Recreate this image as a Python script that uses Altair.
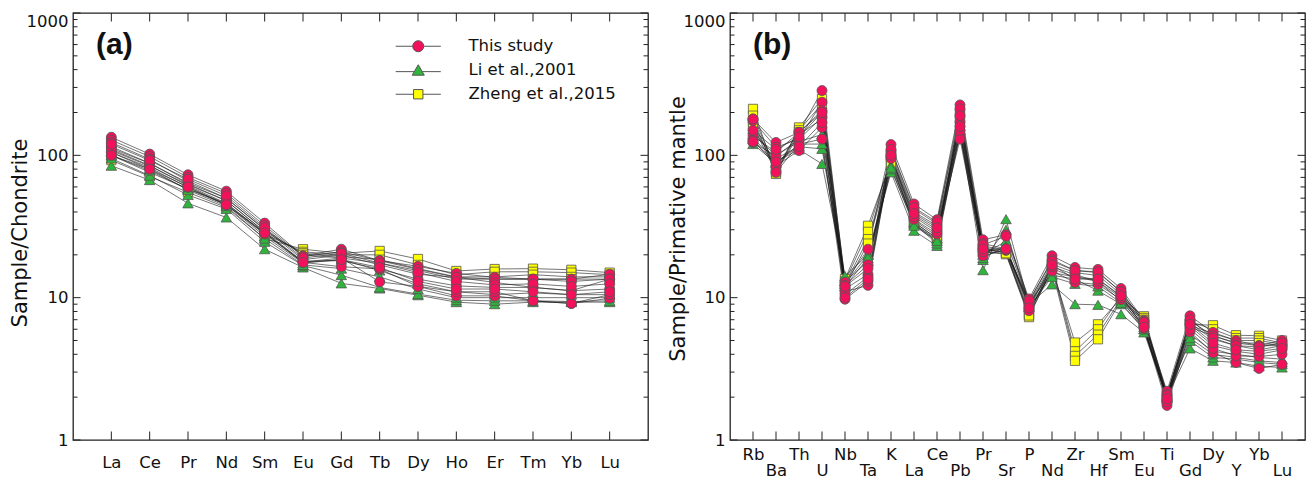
import altair as alt
import pandas as pd

# ---------------- data ----------------
ree = ["La", "Ce", "Pr", "Nd", "Sm", "Eu", "Gd", "Tb", "Dy", "Ho", "Er", "Tm", "Yb", "Lu"]
spider = ["Rb", "Ba", "Th", "U", "Nb", "Ta", "K", "La", "Ce", "Pb", "Pr", "Sr", "P", "Nd",
          "Zr", "Hf", "Sm", "Eu", "Ti", "Gd", "Dy", "Y", "Yb", "Lu"]
groups = ["This study", "Li et al.,2001", "Zheng et al.,2015"]
colors = ["#f2125c", "#2fb53c", "#ffff00"]

# chondrite-normalised REE
ree_this = [
    [134, 102, 73, 56, 33.4, 19.7, 21.9, 18.2, 16.6, 14.8, 13.9, 13.5, 13.5, 14.6],
    [128, 98, 70, 54, 32, 19.5, 21.0, 18.2, 15.8, 13.9, 13.5, 13.5, 13.0, 13.5],
    [123, 94, 66, 50, 30.3, 18.5, 19.9, 17.0, 14.6, 13.9, 12.8, 11.8, 11.2, 13.5],
    [115, 88, 63, 48, 29, 18.0, 18.2, 15.9, 13.5, 12.1, 11.8, 11.8, 11.2, 11.5],
    [105, 82, 59.5, 44.7, 28, 17.7, 16.5, 15.9, 12.0, 10.3, 10.3, 9.5, 9.1, 9.9],
    [110, 85, 61, 46, 28.5, 17.8, 19.0, 12.9, 12.0, 11.0, 11.0, 9.5, 9.1, 10.5],
    [120, 92, 68, 52, 31, 19.0, 20.5, 17.5, 15.0, 13.0, 12.3, 12.5, 12.0, 12.5],
    [100, 80, 60, 45, 28.5, 17.7, 18.5, 16.3, 13.0, 11.5, 11.5, 11.0, 10.5, 11.0],
]
ree_li = [
    [84.5, 67, 46, 36.6, 21.9, 16.3, 12.6, 11.6, 10.4, 9.3, 9.0, 9.3, 9.3, 9.3],
    [95, 72, 52.6, 42, 24.7, 16.8, 14.4, 11.8, 10.6, 9.6, 9.5, 9.5, 9.4, 9.5],
    [100, 78, 58, 45, 27, 17.5, 18.5, 15.5, 12.5, 11.0, 10.5, 10.8, 10.5, 10.5],
    [105, 80, 57, 44, 26, 17.0, 16.0, 14.0, 11.5, 10.0, 10.0, 10.0, 10.0, 10.0],
]
ree_zheng = [
    [92.5, 71, 55, 43, 26, 21.9, 20.5, 21.3, 18.7, 15.4, 15.9, 16.0, 15.7, 15.0],
    [100, 76, 58, 46, 28, 21.0, 20.0, 20.0, 17.0, 14.5, 15.2, 15.2, 15.0, 14.5],
    [108, 84, 62, 48, 29, 20.5, 19.5, 18.5, 16.0, 14.0, 14.0, 14.5, 14.0, 14.0],
    [112, 88, 64, 50, 30, 20.0, 19.0, 17.5, 15.5, 13.5, 13.5, 13.5, 13.5, 13.5],
]

# primitive-mantle-normalised trace elements
pm_this = [
    [180, 123, 145, 285, 12.8, 21.9, 119, 45.5, 35.3, 226, 25.5, 27.7, 9.8, 19.7, 16.3, 15.8, 11.6, 6.9, 2.2, 7.45, 5.7, 5.0, 4.6, 5.0],
    [175, 114, 130, 236, 12.2, 17.0, 108, 42, 33, 212, 24, 22, 9.4, 18.5, 15.5, 15.0, 11.0, 6.8, 2.1, 6.9, 5.4, 4.8, 4.6, 4.6],
    [137, 105, 145, 206, 11.5, 14.6, 104, 40, 32, 171, 23, 21.7, 9.2, 17.2, 15.0, 14.3, 10.6, 6.5, 2.0, 6.6, 5.1, 4.6, 4.3, 4.6],
    [123, 99, 130, 185, 11.0, 12.2, 97, 38, 30, 141, 22, 21.5, 8.8, 16.0, 13.9, 13.5, 10.2, 6.3, 1.9, 6.3, 4.6, 4.2, 4.0, 4.3],
    [128, 84.5, 108, 157, 10.5, 14.0, 100, 35.6, 28, 130, 19.7, 21.7, 8.1, 15.4, 12.8, 12.4, 9.7, 6.07, 1.75, 5.75, 4.1, 3.5, 3.18, 3.4],
    [180, 76, 120, 130, 9.75, 13.0, 95, 37, 29, 150, 21, 22, 9.0, 16.5, 14.5, 13.0, 10.0, 6.3, 1.85, 6.0, 4.4, 3.9, 3.86, 4.0],
    [150, 110, 135, 200, 12.0, 16.0, 110, 43, 34, 190, 23.5, 27, 9.5, 18.0, 15.5, 15.2, 11.0, 6.7, 2.05, 7.0, 5.2, 4.6, 4.5, 4.8],
    [125, 90, 115, 170, 10.0, 13.5, 100, 39, 31, 160, 22, 22, 8.5, 17.0, 13.5, 13.5, 10.3, 6.2, 1.95, 6.5, 4.8, 4.3, 4.2, 4.4],
]
pm_li = [
    [153, 90, 110, 87, 14.2, 20, 76, 29.5, 23.1, 150, 15.6, 35.6, 9.0, 12.4, 9.0, 8.9, 7.65, 5.7, 2.0, 4.4, 3.6, 3.5, 3.3, 3.23],
    [130, 95, 115, 111, 13.0, 18, 80, 33, 24, 160, 18.4, 30, 8.8, 14.4, 13.5, 11.2, 9.0, 6.0, 2.05, 4.97, 3.8, 3.7, 3.5, 3.4],
    [140, 100, 125, 140, 12.5, 20, 85, 34, 26, 170, 20, 25, 9.2, 15.0, 14.0, 13.0, 9.5, 6.2, 2.0, 5.5, 4.2, 4.0, 3.8, 3.7],
    [120, 88, 120, 120, 12.0, 19, 82, 32, 25, 140, 19, 23, 8.6, 14.0, 12.5, 12.0, 9.2, 6.0, 1.95, 5.2, 4.0, 3.8, 3.6, 3.5],
]
pm_zheng = [
    [212, 74, 157, 249, 13.5, 32, 90, 33, 25, 195, 21, 20.2, 7.3, 16.0, 4.84, 6.5, 10.0, 7.4, 2.1, 6.5, 6.4, 5.45, 5.4, 5.0],
    [190, 80, 150, 230, 13.0, 29, 95, 35, 27, 200, 22, 20.7, 7.6, 17.0, 4.2, 6.0, 10.3, 7.2, 2.05, 6.8, 6.0, 5.2, 5.2, 4.8],
    [170, 78, 145, 200, 12.5, 25.8, 92, 34, 26, 185, 21.5, 21, 7.8, 16.5, 3.9, 5.5, 9.8, 7.0, 2.0, 6.4, 5.6, 5.0, 5.0, 4.7],
    [160, 76, 140, 180, 12.0, 24, 88, 33, 25.5, 175, 21, 20.5, 7.5, 15.8, 3.6, 5.1, 9.5, 6.9, 1.95, 6.2, 5.4, 4.8, 4.8, 4.6],
]

y_major = [1, 10, 100, 1000]
y_minor = [m * 10 ** e for e in range(3) for m in range(2, 10)]

# ---------------- styling ----------------
FONT = "DejaVu Sans"
W, H = 575, 427
FRAME = "#222222"
LAB = 16.5
XT, YMAJ, YMIN = 8.5, 7.5, 4.5

# legend symbols: marker with a short line through it
leg_paths = [
    "M-4.1,0L-1,0M1,0L4.1,0M-1,0A1,1,0,1,1,1,0A1,1,0,1,1,-1,0Z",
    "M-4.1,0.25L-0.7,0.25M0.7,0.25L4.1,0.25M0,-1L1.1,0.9L-1.1,0.9Z",
    "M-4.1,0L-0.85,0M0.85,0L4.1,0M-0.85,-0.85L0.85,-0.85L0.85,0.85L-0.85,0.85Z",
]


def long_frame(names, sets):
    rows = []
    for g, samples in zip(groups, sets):
        for si, vals in enumerate(samples):
            for i, v in enumerate(vals):
                rows.append({"sample": f"{g}-{si}", "group": g, "idx": i + 1,
                             "el": names[i], "value": v})
    return pd.DataFrame(rows)


def make_panel(names, sets, ytitle, tag, title_x, title_y, staggered=False, legend=False):
    n = len(names)
    df = long_frame(names, sets)
    xs = alt.Scale(domain=[0, n + 1], nice=False, zero=False)
    ys = alt.Scale(type="log", domain=[1, 1000], nice=False)
    arr = "[" + ",".join(f"'{s}'" for s in names) + "]"
    if staggered:
        lab = f"datum.value % 2 == 1 ? {arr}[datum.value-1] : ['', {arr}[datum.value-1]]"
        pad = 6
    else:
        lab = f"{arr}[datum.value-1]"
        pad = 14
    xvals = list(range(1, n + 1))

    x_lab = alt.Axis(orient="bottom", values=xvals, labelExpr=lab, ticks=False, domain=False,
                     grid=False, labelFont=FONT, labelFontSize=LAB, labelColor="#111",
                     labelPadding=pad, labelOverlap=False, labelFlush=False,
                     labelLineHeight=16.5, title=None)
    y_lab = alt.Axis(orient="left", values=y_major, labelExpr="datum.value + ''", ticks=False,
                     domain=False, grid=False, labelFont=FONT, labelFontSize=LAB,
                     labelColor="#111", labelPadding=5, labelFlush=False, labelOverlap=False,
                     labelBaseline={"condition": {"test": "datum.value == 1000", "value": "top"},
                                    "value": "middle"},
                     title=ytitle, titleFont=FONT, titleFontSize=21, titleFontWeight="normal",
                     titleColor="#111", titleX=title_x, titleY=title_y)

    lines = alt.Chart(df).mark_line(color="#1a1a1a", strokeWidth=0.6).encode(
        x=alt.X("idx:Q", scale=xs, axis=x_lab),
        y=alt.Y("value:Q", scale=ys, axis=y_lab),
        detail="sample:N", order="idx:Q")

    # inward tick marks on all four sides of the frame
    xt = pd.DataFrame({"v": xvals})
    ymaj = pd.DataFrame({"v": y_major})
    ymin = pd.DataFrame({"v": y_minor})
    tick_layers = []
    for y0, y1 in [(0, XT), (H, H - XT)]:
        tick_layers.append(alt.Chart(xt).mark_rule(color=FRAME, strokeWidth=1).encode(
            x=alt.X("v:Q", scale=xs, axis=None), y=alt.value(y0), y2=alt.value(y1)))
    for d, ln in [(ymaj, YMAJ), (ymin, YMIN)]:
        for x0, x1 in [(0, ln), (W, W - ln)]:
            tick_layers.append(alt.Chart(d).mark_rule(color=FRAME, strokeWidth=1).encode(
                y=alt.Y("v:Q", scale=ys, axis=None), x=alt.value(x0), x2=alt.value(x1)))

    def pts(g, shape, size):
        k = groups.index(g)
        return alt.Chart(df).transform_filter(alt.datum.group == g).mark_point(
            shape=shape, filled=True, fill=colors[k], stroke="#555555", strokeWidth=0.8,
            size=size, opacity=1).encode(
            x=alt.X("idx:Q", scale=xs, axis=None),
            y=alt.Y("value:Q", scale=ys, axis=None))

    sq = pts(groups[2], "square", 85)
    tri = pts(groups[1], "triangle-up", 110)
    circ = pts(groups[0], "circle", 100)

    tag_layer = alt.Chart(pd.DataFrame({"t": [tag]})).mark_text(
        align="left", baseline="middle", font="Liberation Sans", fontSize=30,
        fontWeight="bold", color="#111").encode(text="t:N", x=alt.value(23), y=alt.value(32))

    layers = [lines] + tick_layers + [sq, tri, circ, tag_layer]
    if legend:
        lg = alt.Legend(orient="none", legendX=337, legendY=25, title=None, labelFont=FONT,
                        labelFontSize=LAB, labelColor="#111",
                        symbolStrokeWidth=1, symbolSize=121, labelOffset=42, rowPadding=7,
                        padding=0, symbolOpacity=1)
        leg = alt.Chart(pd.DataFrame({"group": groups})).transform_filter("false").mark_point(
            filled=True, opacity=1, strokeWidth=1).encode(
            shape=alt.Shape("group:N", scale=alt.Scale(domain=groups, range=leg_paths), legend=lg),
            fill=alt.Fill("group:N", scale=alt.Scale(domain=groups, range=colors), legend=lg),
            stroke=alt.Stroke("group:N", scale=alt.Scale(domain=groups, range=["#555555"] * 3),
                              legend=lg))
        layers.append(leg)
    return alt.layer(*layers).resolve_axis(x="independent", y="independent").properties(
        width=W, height=H)


pa = make_panel(ree, [ree_this, ree_li, ree_zheng], "Sample/Chondrite", "(a)", -43,
                H / 2 + 6, legend=True)
pb = make_panel(spider, [pm_this, pm_li, pm_zheng], "Sample/Primative mantle", "(b)", -42,
                H / 2 + 2, staggered=True)

chart = alt.hconcat(pa, pb, spacing=16).properties(
    padding={"left": 8, "top": 11, "right": 2, "bottom": 0},
    background="white").configure_view(stroke=FRAME, strokeWidth=1.3)

chart.save("out.html", embed_options={"renderer": "svg", "actions": False})
